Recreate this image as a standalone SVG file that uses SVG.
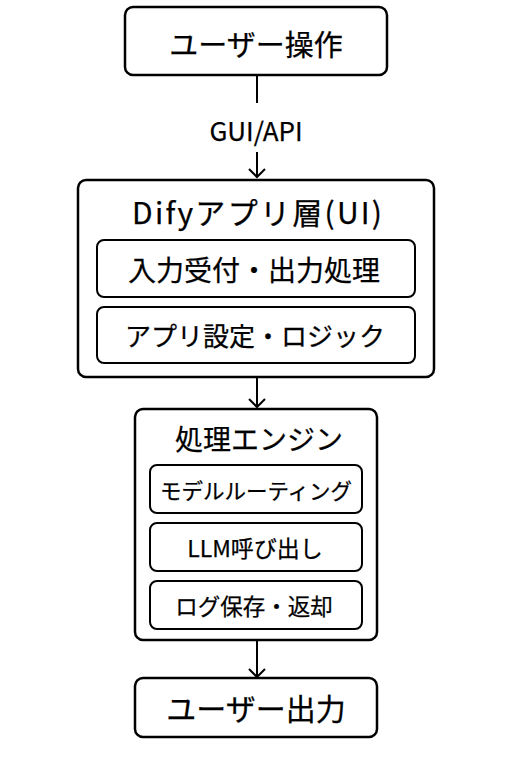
<svg xmlns="http://www.w3.org/2000/svg" width="512" height="768" viewBox="0 0 512 768">
<defs>
<marker id="arr" viewBox="0 0 20 20" refX="18" refY="10" markerWidth="20" markerHeight="20" markerUnits="userSpaceOnUse" orient="auto">
<path d="M10,2 L18,10 L10,18" fill="none" stroke="#000" stroke-width="2"/>
</marker>
</defs>
<style>
.box{fill:#fff;stroke:#000;stroke-width:2.5}
.inner{fill:#fff;stroke:#000;stroke-width:2}
text{font-family:"Noto Sans CJK JP","Noto Sans",sans-serif;font-weight:400;fill:#000;stroke:#000;stroke-width:0.25;text-anchor:middle;dominant-baseline:central}
.conn{stroke:#000;stroke-width:2;fill:none}
</style>
<rect width="512" height="768" fill="#fff"/>
<g id="connectors">
<line class="conn" x1="257" y1="75" x2="257" y2="103"/>
<text x="256" y="129" font-size="26" stroke-width="0.1">GUI/API</text>
<line class="conn" x1="257" y1="152" x2="257" y2="177" marker-end="url(#arr)"/>
<line class="conn" x1="257" y1="377" x2="257" y2="407" marker-end="url(#arr)"/>
<line class="conn" x1="257" y1="640" x2="257" y2="677" marker-end="url(#arr)"/>
</g>
<g id="user-op">
<rect class="box" x="125" y="7" width="262" height="68" rx="8"/>
<text x="256" y="43" font-size="29">ユーザー操作</text>
</g>
<g id="dify-app">
<rect class="box" x="78" y="180" width="356" height="197" rx="8"/>
<text x="257" y="211" font-size="30" textLength="250" lengthAdjust="spacing">Difyアプリ層(UI)</text>
</g>
<g id="input-output">
<rect class="inner" x="97" y="240" width="318" height="57" rx="7"/>
<text x="254" y="269" font-size="28">入力受付・出力処理</text>
</g>
<g id="app-settings">
<rect class="inner" x="97" y="307" width="318" height="56" rx="7"/>
<text x="255" y="334" font-size="26">アプリ設定・ロジック</text>
</g>
<g id="engine">
<rect class="box" x="135" y="409" width="242" height="231" rx="8"/>
<text x="259" y="438" font-size="28">処理エンジン</text>
</g>
<g id="routing">
<rect class="inner" x="150" y="465" width="212" height="48" rx="7"/>
<text x="256" y="489" font-size="21.5">モデルルーティング</text>
</g>
<g id="llm-call">
<rect class="inner" x="150" y="523" width="212" height="48" rx="7"/>
<text x="255" y="547" font-size="23">LLM呼び出し</text>
</g>
<g id="log-save">
<rect class="inner" x="150" y="581" width="212" height="48" rx="7"/>
<text x="254" y="605" font-size="22.5">ログ保存・返却</text>
</g>
<g id="user-out">
<rect class="box" x="135" y="678" width="242" height="59" rx="8"/>
<text x="256" y="707" font-size="30">ユーザー出力</text>
</g>
</svg>
